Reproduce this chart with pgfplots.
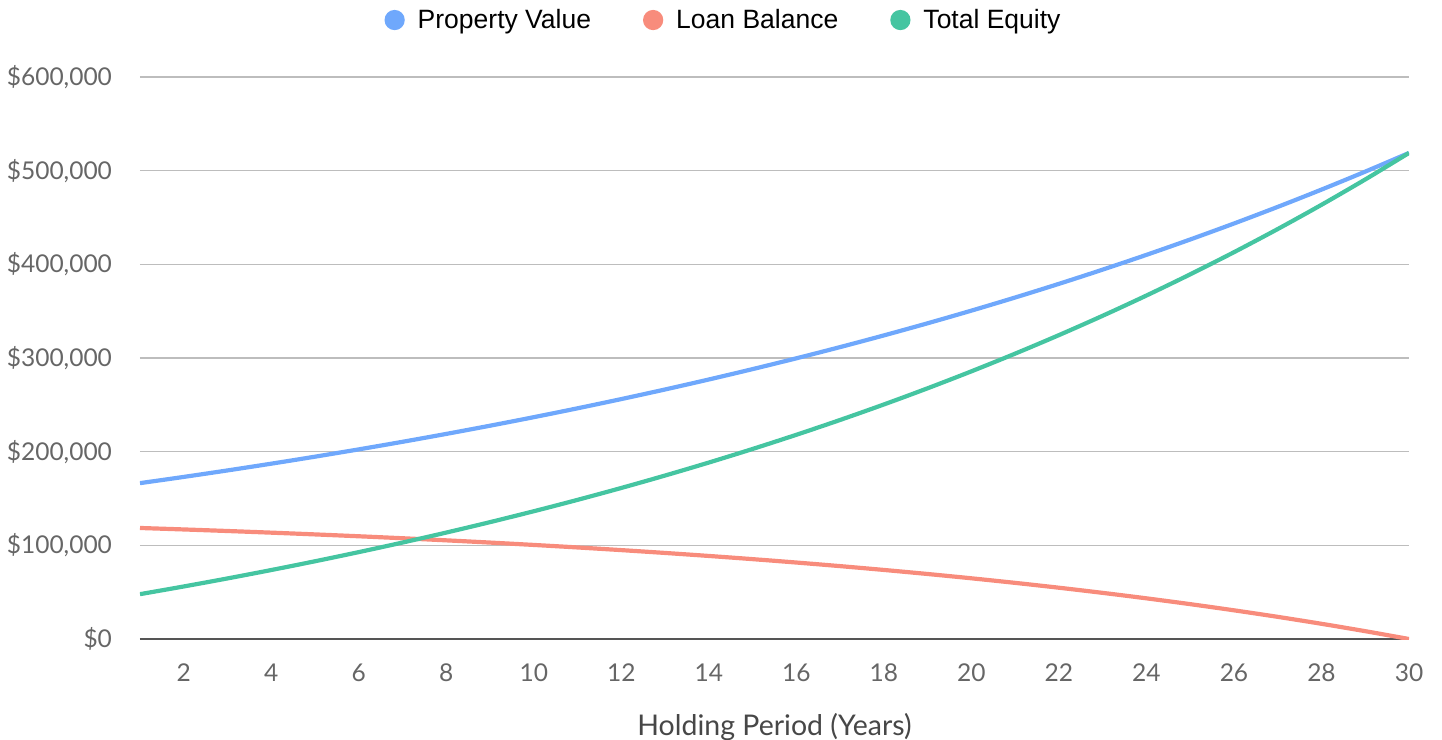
\documentclass[border=0pt]{standalone}
\usepackage{fontspec}
\setmainfont{Lato}
\newfontfamily\legfont{Liberation Sans}
\usepackage{pgfplots}
\usepackage{pgfplotstable}
\pgfplotsset{compat=1.18}
\definecolor{pvc}{HTML}{6FA8FC}
\definecolor{lbc}{HTML}{F88C7C}
\definecolor{tec}{HTML}{45C5A1}
\definecolor{tickc}{HTML}{666666}
\definecolor{gridc}{HTML}{BDBDBD}
\definecolor{zeroc}{HTML}{555555}

\pgfplotstableread{
year pv lb te
1 166400 118528 47872
2 173056 116962 56094
3 179978 115301 64677
4 187177 113538 73639
5 194664 111666 82998
6 202451 109678 92773
7 210549 107568 102981
8 218971 105327 113644
9 227730 102948 124782
10 236839 100423 136416
11 246313 97742 148571
12 256165 94896 161269
13 266412 91874 174538
14 277068 88665 188403
15 288151 85259 202892
16 299677 81643 218034
17 311664 77803 233861
18 324131 73727 250404
19 337096 69399 267697
20 350580 64805 285775
21 364603 59927 304676
22 379187 54748 324439
23 394354 49250 345104
24 410129 43412 366717
25 426534 37215 389319
26 443595 30635 412960
27 461339 23650 437689
28 479793 16233 463560
29 498984 8359 490625
30 518944 0 518944
}\datatable

\begin{document}
\begin{tikzpicture}
\begin{axis}[
  scale only axis, width=634.5bp, height=281bp,
  xmin=1, xmax=30, ymin=0, ymax=600000,
  scaled y ticks=false,
  axis line style={draw=none},
  major tick length=0pt,
  xtick={2,4,...,30},
  xticklabels={2,4,6,8,10,12,14,16,18,20,22,24,26,28,30},
  ytick={0,100000,200000,300000,400000,500000,600000},
  yticklabels={{\$0},{\$100,000},{\$200,000},{\$300,000},{\$400,000},{\$500,000},{\$600,000}},
  ymajorgrids, grid style={color=gridc, line width=0.6bp},
  ticklabel style={font=\fontsize{12.3}{14}\selectfont, text=tickc},
  yticklabel style={xshift=-10.5bp},
  xticklabel style={yshift=-9bp},
  xlabel={Holding Period (Years)},
  xlabel style={font=\fontsize{14.3}{17}\selectfont, text=black!72, yshift=-9bp},
  legend columns=3,
  legend style={at={(0.4606,1.1014)}, anchor=center, draw=none, fill=none,
    font=\legfont\fontsize{13.3}{16}\selectfont,
    /tikz/every odd column/.append style={column sep=4.5bp},
    /tikz/every even column/.append style={column sep=24bp}},
  legend image code/.code={\fill (0bp,0bp) circle (4bp);},
  every axis plot/.append style={line width=2.1bp, no marks},
]
\draw[zeroc, line width=0.6bp] (axis cs:1,0) -- (axis cs:30,0);
\addplot[color=pvc, smooth] table[x=year, y=pv] {\datatable};
\addlegendentry{Property Value}
\addplot[color=lbc, smooth] table[x=year, y=lb] {\datatable};
\addlegendentry{Loan Balance}
\addplot[color=tec, smooth] table[x=year, y=te] {\datatable};
\addlegendentry{Total Equity}
\end{axis}
\pgfresetboundingbox
\path (-70bp,-50.5bp) rectangle (651bp,319.5bp);
\end{tikzpicture}
\end{document}
